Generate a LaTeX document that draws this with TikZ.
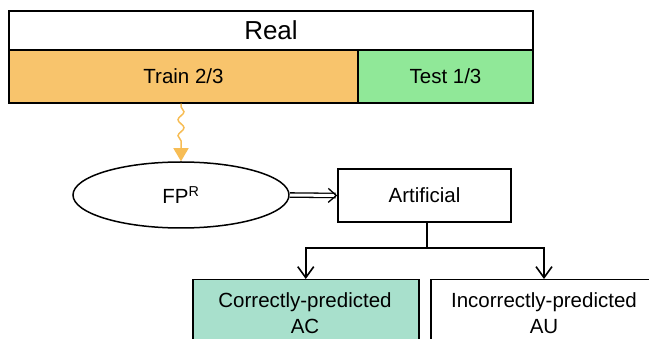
\documentclass[tikz,border=0pt]{standalone}
\usepackage{fontspec}
\setmainfont{Liberation Sans}
\usetikzlibrary{arrows.meta,decorations.pathmorphing,shapes.geometric}
\definecolor{trainc}{HTML}{F8C46C}
\definecolor{testc}{HTML}{90E898}
\definecolor{acc}{HTML}{A8E0CC}
\definecolor{wavec}{HTML}{F7BD55}
\tikzset{
  box/.style={draw=black, line width=1.5pt, inner sep=0pt, font=\fontsize{20.5}{24}\selectfont},
  conn/.style={draw=black, line width=1.5pt, -{Straight Barb[length=11pt,width=16pt,line width=1.6pt]}},
}
\begin{document}
\begin{tikzpicture}[x=1pt,y=-1pt]
\useasboundingbox (0,0) rectangle (649,339);
\node[box, minimum width=524pt, minimum height=39pt, font=\fontsize{26}{28}\selectfont] (real) at (271,30.5) {Real};
\node[box, fill=trainc, minimum width=349pt, minimum height=53pt] (train) at (183.5,76.5) {Train 2/3};
\node[box, fill=testc, minimum width=175pt, minimum height=53pt] (test) at (445.5,76.5) {Test 1/3};
\node[box, ellipse, minimum width=216pt, minimum height=66pt] (fp) at (181,195) {FP\textsuperscript{R}};
\node[box, minimum width=173pt, minimum height=53pt] (art) at (424.5,195.5) {Artificial};
\node[box, fill=acc, minimum width=226pt, minimum height=80pt, anchor=north west] (ac) at (192,279) {};
\node[box, minimum width=240pt, minimum height=80pt, anchor=north west] (au) at (430,279) {};
\node[font=\fontsize{20.5}{26}\selectfont, align=center] (actext) at (305,313) {Correctly-predicted\\AC};
\node[font=\fontsize{20.5}{26}\selectfont, align=center] (autext) at (544,313) {Incorrectly-predicted\\AU};
\coordinate (split) at (427,248);
\draw[wavec, line width=1.5pt, decorate, decoration={snake, amplitude=3pt, segment length=16pt, post length=14pt, pre length=3pt}, -{Triangle[length=13pt,width=15pt]}] (train.south -| fp.north) -- (fp.north);
\draw[line width=1.3pt, double distance=3pt, -{Straight Barb[length=8pt,width=14pt]}] (fp.east) -- (art.west);
\draw[line width=1.5pt] (art.south -| split) -- (split);
\draw[conn] (split) -| (ac.north);
\draw[conn] (split) -| (ac.north -| autext);
\end{tikzpicture}
\end{document}
